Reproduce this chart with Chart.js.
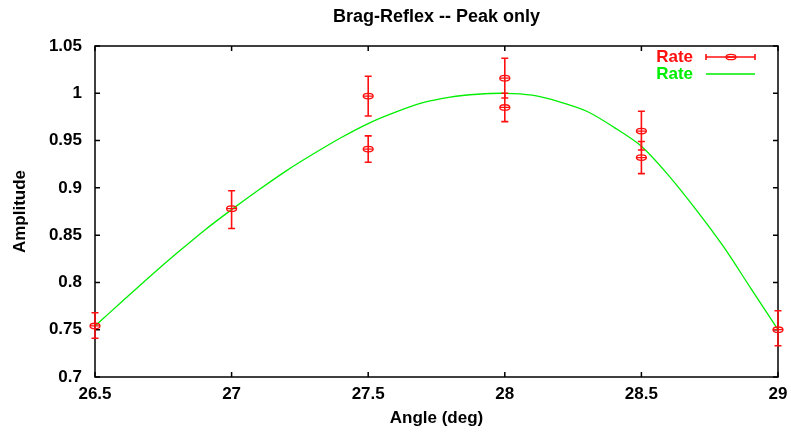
<!DOCTYPE html>
<html>
<head>
<meta charset="utf-8">
<script src="https://cdn.jsdelivr.net/npm/chart.js@4.4.1/dist/chart.umd.min.js"></script>
<style>
  html, body { margin: 0; padding: 0; background: #fff; }
  #wrap { width: 791px; height: 435px; }
</style>
</head>
<body>
<div id="wrap"><canvas id="grafico" width="791" height="435"></canvas></div>
<script>
// measured points (red) with error bars
const angles   = [26.5,  27,    27.5,  27.5,  28,    28,    28.5,  28.5,  29];
const rates    = [0.754, 0.878, 0.997, 0.941, 1.016, 0.985, 0.960, 0.932, 0.750];
const rateLow  = [0.741, 0.857, 0.976, 0.927, 0.995, 0.970, 0.940, 0.915, 0.733];
const rateHigh = [0.768, 0.897, 1.018, 0.955, 1.037, 1.000, 0.981, 0.949, 0.770];

// fitted curve (green)
const fitAngles = [26.5, 26.6, 26.7, 26.8, 26.9, 27.0, 27.1, 27.2, 27.3, 27.4, 27.5, 27.6, 27.7,
                   27.8, 27.9, 28.0, 28.1, 28.2, 28.3, 28.4, 28.5, 28.6, 28.7, 28.8, 28.9, 29.0];
const fitRates  = [0.754, 0.780, 0.806, 0.831, 0.855, 0.877, 0.898, 0.918, 0.936, 0.953, 0.968, 0.980, 0.990,
                   0.996, 0.999, 1.000, 0.998, 0.991, 0.981, 0.964, 0.944, 0.913, 0.877, 0.838, 0.794, 0.750];

const xTicks = [26.5, 27, 27.5, 28, 28.5, 29];
const yTicks = [0.7, 0.75, 0.8, 0.85, 0.9, 0.95, 1, 1.05];

const FONT = 'Liberation Sans, Arial, sans-serif';
const ROJO = '#ff1010';
const VERDE = '#00ee00';

function marca(ctx, x, y) {
  // ellipse marker like gnuplot's circle point
  ctx.beginPath();
  ctx.ellipse(x, y, 5, 2.7, 0, 0, Math.PI * 2);
  ctx.moveTo(x - 5, y);
  ctx.lineTo(x + 5, y);
  ctx.stroke();
}

const etiqueta = v => String(Number(v.toFixed(2)));

const marcoYBarras = {
  id: 'marcoYBarras',
  afterDatasetsDraw(chart) {
    const ctx = chart.ctx;
    const xs = chart.scales.x, ys = chart.scales.y;
    const a = chart.chartArea;

    // marco + ticks hacia dentro
    ctx.save();
    ctx.strokeStyle = '#000';
    ctx.lineWidth = 1.5;
    ctx.strokeRect(a.left, a.top, a.right - a.left, a.bottom - a.top);
    ctx.beginPath();
    xTicks.forEach(v => {
      const px = xs.getPixelForValue(v);
      ctx.moveTo(px, a.bottom); ctx.lineTo(px, a.bottom - 5);
      ctx.moveTo(px, a.top); ctx.lineTo(px, a.top + 5);
    });
    yTicks.forEach(v => {
      const py = ys.getPixelForValue(v);
      ctx.moveTo(a.left, py); ctx.lineTo(a.left + 5, py);
      ctx.moveTo(a.right, py); ctx.lineTo(a.right - 5, py);
    });
    ctx.stroke();
    ctx.restore();

    // barras de error
    ctx.save();
    ctx.strokeStyle = ROJO;
    angles.forEach((ang, i) => {
      const px = xs.getPixelForValue(ang);
      const pLo = ys.getPixelForValue(rateLow[i]);
      const pHi = ys.getPixelForValue(rateHigh[i]);
      const py = ys.getPixelForValue(rates[i]);
      ctx.lineWidth = 1.6;
      ctx.beginPath();
      ctx.moveTo(px, pLo); ctx.lineTo(px, pHi);
      ctx.moveTo(px - 3.5, pLo); ctx.lineTo(px + 3.5, pLo);
      ctx.moveTo(px - 3.5, pHi); ctx.lineTo(px + 3.5, pHi);
      ctx.stroke();
      ctx.lineWidth = 1.3;
      marca(ctx, px, py);
    });
    ctx.restore();
  },
  afterDraw(chart) {
    // leyenda a mano
    const ctx = chart.ctx;
    ctx.save();
    ctx.font = 'bold 17px ' + FONT;
    ctx.textAlign = 'right';
    ctx.textBaseline = 'middle';
    ctx.fillStyle = ROJO;
    ctx.fillText('Rate', 693, 57);
    ctx.fillStyle = VERDE;
    ctx.fillText('Rate', 693, 74);

    ctx.strokeStyle = ROJO;
    ctx.lineWidth = 1.6;
    ctx.beginPath();
    ctx.moveTo(706, 57); ctx.lineTo(755, 57);
    ctx.moveTo(706, 54); ctx.lineTo(706, 60);
    ctx.moveTo(755, 54); ctx.lineTo(755, 60);
    ctx.stroke();
    ctx.lineWidth = 1.3;
    marca(ctx, 731, 57);

    ctx.strokeStyle = VERDE;
    ctx.lineWidth = 1.3;
    ctx.beginPath();
    ctx.moveTo(706, 74); ctx.lineTo(755, 74);
    ctx.stroke();
    ctx.restore();
  }
};

const ctxG = document.getElementById('grafico').getContext('2d');
new Chart(ctxG, {
  data: {
    datasets: [
      {
        type: 'line',
        label: 'Rate',
        data: fitAngles.map((a, i) => ({ x: a, y: fitRates[i] })),
        borderColor: VERDE,
        borderWidth: 1.3,
        pointRadius: 0,
        fill: false,
        tension: 0.3
      },
      {
        type: 'scatter',
        label: 'Rate',
        data: angles.map((a, i) => ({ x: a, y: rates[i] })),
        pointRadius: 0,
        borderColor: ROJO,
        backgroundColor: ROJO
      }
    ]
  },
  options: {
    responsive: false,
    animation: false,
    devicePixelRatio: 1,
    layout: { padding: { left: 0, right: 13, top: 0, bottom: 0 } },
    plugins: {
      legend: { display: false },
      tooltip: { enabled: false },
      title: {
        display: true,
        fullSize: false,
        text: 'Brag-Reflex -- Peak only',
        color: '#000',
        font: { family: FONT, size: 18, weight: 'bold' },
        padding: { top: 6, bottom: 18.4 }
      }
    },
    scales: {
      x: {
        type: 'linear',
        min: 26.5,
        max: 29,
        afterBuildTicks: s => { s.ticks = xTicks.map(v => ({ value: v })); },
        afterFit: s => { s.height = 58; },
        grid: { display: false },
        border: { display: false },
        ticks: {
          color: '#000',
          font: { family: FONT, size: 17, weight: 'bold' },
          padding: -1,
          maxRotation: 0,
          autoSkip: false,
          callback: v => etiqueta(v)
        },
        title: {
          display: true,
          text: 'Angle (deg)',
          color: '#000',
          font: { family: FONT, size: 17, weight: 'bold' },
          padding: { top: 0, bottom: 6 }
        }
      },
      y: {
        type: 'linear',
        min: 0.7,
        max: 1.05,
        afterBuildTicks: s => { s.ticks = yTicks.map(v => ({ value: v })); },
        afterFit: s => { s.width = 95; },
        grid: { display: false },
        border: { display: false },
        ticks: {
          color: '#000',
          font: { family: FONT, size: 17, weight: 'bold' },
          padding: 5,
          autoSkip: false,
          callback: v => etiqueta(v)
        },
        title: {
          display: true,
          text: 'Amplitude',
          color: '#000',
          font: { family: FONT, size: 17, weight: 'bold' },
          padding: { top: 10, bottom: 0 }
        }
      }
    }
  },
  plugins: [marcoYBarras]
});
</script>
</body>
</html>
